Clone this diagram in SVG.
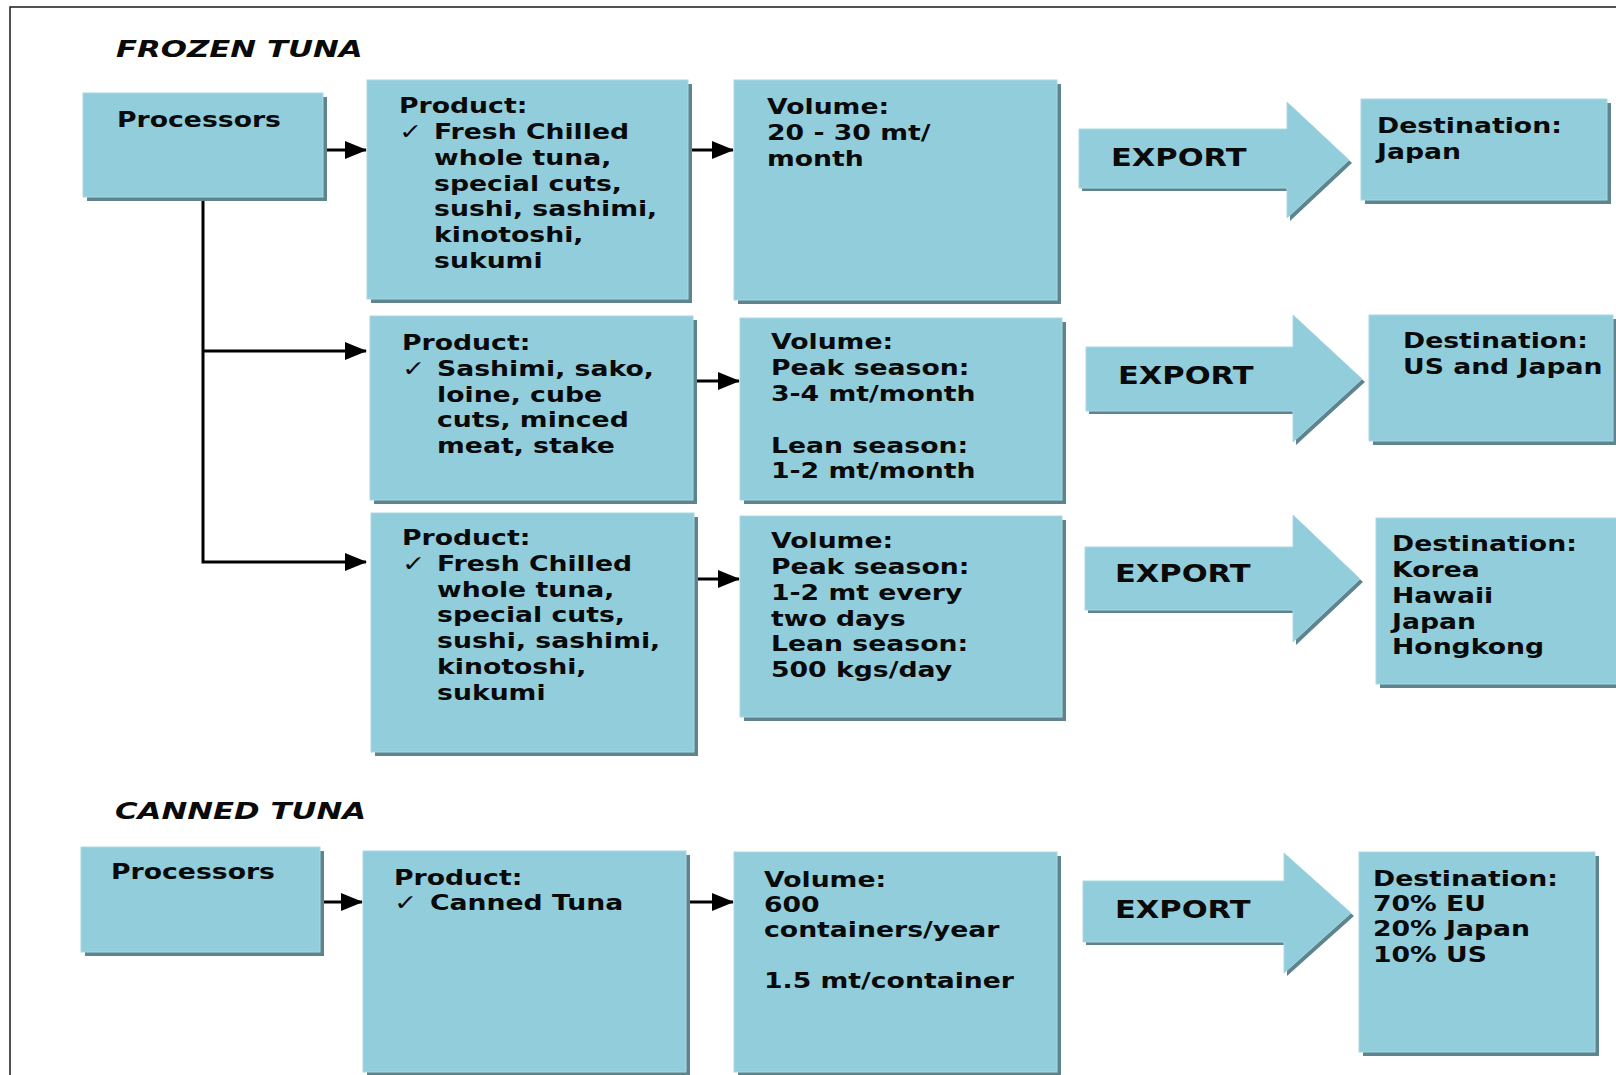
<svg xmlns="http://www.w3.org/2000/svg" width="1616" height="1075" viewBox="0 0 1616 1075">
<style>
.bg{fill:#ffffff}
.frame{fill:none;stroke:#1a1a1a;stroke-width:1.5}
.box{fill:#92CDDC;stroke:#a9d8e4;stroke-width:1}
.sh{fill:#5e848d}
.t{font-family:"DejaVu Sans",Verdana,sans-serif;font-weight:bold;font-size:21px;fill:#0a0a0a}
.ex{font-family:"DejaVu Sans",Verdana,sans-serif;font-weight:bold;font-size:24px;fill:#0a0a0a}
.ti{font-family:"DejaVu Sans",Verdana,sans-serif;font-weight:bold;font-style:italic;font-size:23px;fill:#0a0a0a}
.ck{font-weight:normal;font-size:22px}
.cn{fill:none;stroke:#000;stroke-width:3;marker-end:url(#ah)}
</style>
<defs>
<marker id="ah" markerUnits="userSpaceOnUse" markerWidth="22" markerHeight="18" refX="21" refY="9" orient="auto">
<path d="M0,0 L22,9 L0,18 Z" fill="#000"/>
</marker>
</defs>
<rect class="bg" x="0" y="0" width="1616" height="1075"/>
<rect class="frame" x="10" y="7" width="1640" height="1100"/>

<text class="ti" transform="translate(116,57.3) scale(1.34,1)">FROZEN TUNA</text>
<text class="ti" transform="translate(115,819.3) scale(1.34,1)">CANNED TUNA</text>

<g id="connectors">
<path class="cn" d="M327,150 H366"/>
<path class="cn" d="M203,201 V562 H366"/>
<path class="cn" d="M203,351 H366"/>
<path class="cn" d="M692,150 H733"/>
<path class="cn" d="M697,381 H739"/>
<path class="cn" d="M698,579 H739"/>
<path class="cn" d="M324,902 H362"/>
<path class="cn" d="M690,902 H733"/>
</g>

<g id="processors1">
<rect class="sh" x="87" y="97" width="240" height="104"/>
<rect class="box" x="83" y="93" width="240" height="104"/>
<text class="t" transform="translate(117,126.7) scale(1.27,1)">Processors</text>
</g>

<g id="product1">
<rect class="sh" x="371" y="84" width="321" height="219"/>
<rect class="box" x="367" y="80" width="321" height="219"/>
<text class="t" transform="translate(399,113.3) scale(1.27,1)"><tspan x="0" y="0">Product:</tspan><tspan class="ck" x="0" y="25.8">✓</tspan><tspan x="27.6" y="25.8">Fresh Chilled</tspan><tspan x="27.6" y="51.6">whole tuna,</tspan><tspan x="27.6" y="77.4">special cuts,</tspan><tspan x="27.6" y="103.2">sushi, sashimi,</tspan><tspan x="27.6" y="129">kinotoshi,</tspan><tspan x="27.6" y="154.8">sukumi</tspan></text>
</g>

<g id="volume1">
<rect class="sh" x="738" y="84" width="323" height="220"/>
<rect class="box" x="734" y="80" width="323" height="220"/>
<text class="t" transform="translate(767,114.3) scale(1.27,1)"><tspan x="0" y="0">Volume:</tspan><tspan x="0" y="25.8">20 - 30 mt/</tspan><tspan x="0" y="51.6">month</tspan></text>
</g>

<g id="export1">
<polygon class="sh" points="1082,132 1290,132 1290,105 1352,163 1290,221 1290,191 1082,191"/>
<polygon class="box" points="1079,129 1287,129 1287,102 1349,160 1287,218 1287,188 1079,188"/>
<text class="ex" transform="translate(1111,166) scale(1.27,1)">EXPORT</text>
</g>

<g id="destination1">
<rect class="sh" x="1365" y="103" width="246" height="101"/>
<rect class="box" x="1361" y="99" width="246" height="101"/>
<text class="t" transform="translate(1377,133.3) scale(1.27,1)"><tspan x="0" y="0">Destination:</tspan><tspan x="0" y="25.8">Japan</tspan></text>
</g>

<g id="product2">
<rect class="sh" x="374" y="320" width="323" height="184"/>
<rect class="box" x="370" y="316" width="323" height="184"/>
<text class="t" transform="translate(402,350) scale(1.27,1)"><tspan x="0" y="0">Product:</tspan><tspan class="ck" x="0" y="25.8">✓</tspan><tspan x="27.6" y="25.8">Sashimi, sako,</tspan><tspan x="27.6" y="51.6">loine, cube</tspan><tspan x="27.6" y="77.4">cuts, minced</tspan><tspan x="27.6" y="103.2">meat, stake</tspan></text>
</g>

<g id="volume2">
<rect class="sh" x="744" y="322" width="322" height="182"/>
<rect class="box" x="740" y="318" width="322" height="182"/>
<text class="t" transform="translate(771,349) scale(1.27,1)"><tspan x="0" y="0">Volume:</tspan><tspan x="0" y="25.8">Peak season:</tspan><tspan x="0" y="51.6">3-4 mt/month</tspan><tspan x="0" y="103.6">Lean season:</tspan><tspan x="0" y="129.4">1-2 mt/month</tspan></text>
</g>

<g id="export2">
<polygon class="sh" points="1089,350 1296,350 1296,318 1365,382 1296,445 1296,414 1089,414"/>
<polygon class="box" points="1086,347 1293,347 1293,315 1362,379 1293,442 1293,411 1086,411"/>
<text class="ex" transform="translate(1118,384) scale(1.27,1)">EXPORT</text>
</g>

<g id="destination2">
<rect class="sh" x="1373" y="319" width="244" height="126"/>
<rect class="box" x="1369" y="315" width="244" height="126"/>
<text class="t" transform="translate(1403,348.3) scale(1.27,1)"><tspan x="0" y="0">Destination:</tspan><tspan x="0" y="25.8">US and Japan</tspan></text>
</g>

<g id="product3">
<rect class="sh" x="375" y="517" width="323" height="239"/>
<rect class="box" x="371" y="513" width="323" height="239"/>
<text class="t" transform="translate(402,545) scale(1.27,1)"><tspan x="0" y="0">Product:</tspan><tspan class="ck" x="0" y="25.8">✓</tspan><tspan x="27.6" y="25.8">Fresh Chilled</tspan><tspan x="27.6" y="51.6">whole tuna,</tspan><tspan x="27.6" y="77.4">special cuts,</tspan><tspan x="27.6" y="103.2">sushi, sashimi,</tspan><tspan x="27.6" y="129">kinotoshi,</tspan><tspan x="27.6" y="154.8">sukumi</tspan></text>
</g>

<g id="volume3">
<rect class="sh" x="744" y="520" width="322" height="201"/>
<rect class="box" x="740" y="516" width="322" height="201"/>
<text class="t" transform="translate(771,548.3) scale(1.27,1)"><tspan x="0" y="0">Volume:</tspan><tspan x="0" y="25.8">Peak season:</tspan><tspan x="0" y="51.6">1-2 mt every</tspan><tspan x="0" y="77.4">two days</tspan><tspan x="0" y="103.2">Lean season:</tspan><tspan x="0" y="129">500 kgs/day</tspan></text>
</g>

<g id="export3">
<polygon class="sh" points="1088,550 1296,550 1296,518 1363,582 1296,645 1296,613 1088,613"/>
<polygon class="box" points="1085,547 1293,547 1293,515 1360,579 1293,642 1293,610 1085,610"/>
<text class="ex" transform="translate(1115,582) scale(1.27,1)">EXPORT</text>
</g>

<g id="destination3">
<rect class="sh" x="1380" y="522" width="245" height="166"/>
<rect class="box" x="1376" y="518" width="245" height="166"/>
<text class="t" transform="translate(1392,551.3) scale(1.27,1)"><tspan x="0" y="0">Destination:</tspan><tspan x="0" y="25.8">Korea</tspan><tspan x="0" y="51.6">Hawaii</tspan><tspan x="0" y="77.4">Japan</tspan><tspan x="0" y="103.2">Hongkong</tspan></text>
</g>

<g id="processors2">
<rect class="sh" x="85" y="851" width="239" height="105"/>
<rect class="box" x="81" y="847" width="239" height="105"/>
<text class="t" transform="translate(111,879) scale(1.27,1)">Processors</text>
</g>

<g id="product-canned">
<rect class="sh" x="367" y="855" width="323" height="221"/>
<rect class="box" x="363" y="851" width="323" height="221"/>
<text class="t" transform="translate(394,885) scale(1.27,1)"><tspan x="0" y="0">Product:</tspan><tspan class="ck" x="0" y="25">✓</tspan><tspan x="28.3" y="25">Canned Tuna</tspan></text>
</g>

<g id="volume-canned">
<rect class="sh" x="738" y="856" width="323" height="220"/>
<rect class="box" x="734" y="852" width="323" height="220"/>
<text class="t" transform="translate(764,886.7) scale(1.27,1)"><tspan x="0" y="0">Volume:</tspan><tspan x="0" y="25">600</tspan><tspan x="0" y="50">containers/year</tspan><tspan x="0" y="101.6">1.5 mt/container</tspan></text>
</g>

<g id="export-canned">
<polygon class="sh" points="1086,884 1287,884 1287,856 1354,916 1287,976 1287,945 1086,945"/>
<polygon class="box" points="1083,881 1284,881 1284,853 1351,913 1284,973 1284,942 1083,942"/>
<text class="ex" transform="translate(1115,918.3) scale(1.27,1)">EXPORT</text>
</g>

<g id="destination-canned">
<rect class="sh" x="1363" y="856" width="236" height="200"/>
<rect class="box" x="1359" y="852" width="236" height="200"/>
<text class="t" transform="translate(1373,886) scale(1.27,1)"><tspan x="0" y="0">Destination:</tspan><tspan x="0" y="25">70% EU</tspan><tspan x="0" y="50">20% Japan</tspan><tspan x="0" y="75.6">10% US</tspan></text>
</g>
</svg>
